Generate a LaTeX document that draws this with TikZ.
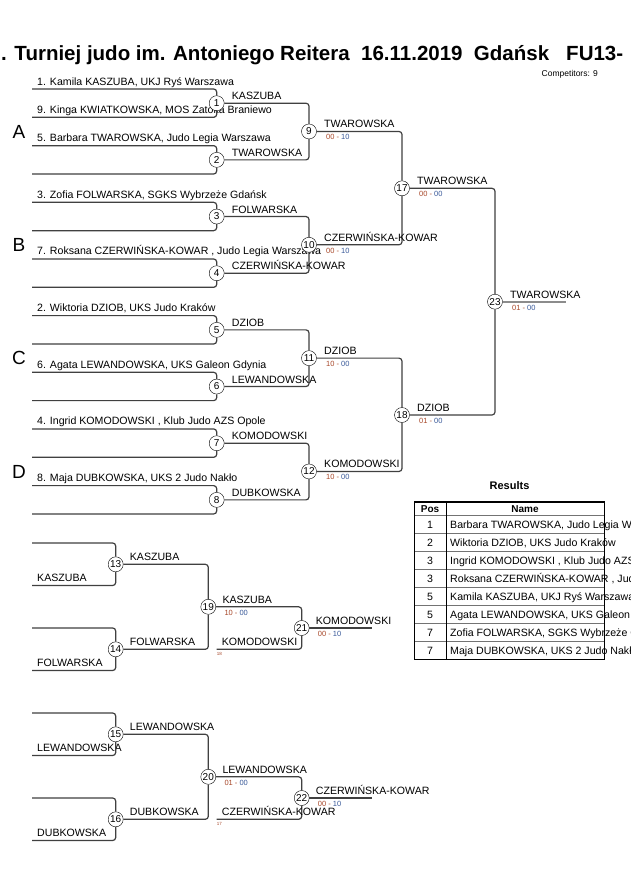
\documentclass[tikz,border=0pt]{standalone}
\usepackage{fontspec}
\setmainfont{Liberation Sans}
\definecolor{ptsw}{HTML}{A8482A}
\definecolor{ptsb}{HTML}{3A5A9A}
\newcommand{\pts}[2]{\textcolor{ptsw}{#1 -} \textcolor{ptsb}{#2}}
\begin{document}
\begin{tikzpicture}[x=1pt,y=-1pt,
        bout/.style={circle,draw,fill=white,inner sep=0pt,minimum size=15pt,font=\fontsize{10}{10}\selectfont},
        wire/.style={draw=black!75,line width=1.2pt,rounded corners=3pt},
        lab/.style={anchor=base west,inner sep=0pt,font=\fontsize{10.6}{12}\selectfont},
        score/.style={anchor=base west,inner sep=0pt,font=\fontsize{7.5}{8}\selectfont},
        tiny/.style={anchor=base west,inner sep=0pt,text=ptsw,font=\fontsize{4.5}{5}\selectfont},
        pool/.style={inner sep=0pt,font=\fontsize{19}{20}\selectfont}]
                \useasboundingbox[fill=white] (0,0) rectangle (630,891);

                \node[anchor=base west,inner sep=0pt,font=\bfseries\fontsize{20.5}{24}\selectfont] (title) at (1,61)
                    {. Turniej judo im. Antoniego Reitera\ \ 16.11.2019\ \ Gdańsk\ \ \ FU13-};
                \node[anchor=base east,inner sep=0pt,font=\fontsize{8.5}{10}\selectfont] (count) at (598,76) {Competitors: 9};

                \foreach \p/\y in {A/131.5,B/245,C/358.3,D/471.7}
                    \node[pool] (pool\p) at (19,\y) {\p};

                \foreach \k in {0,...,15}
                    \coordinate (e\k) at (32,89+28.33*\k);
                \foreach \k/\txt in {0/{1. Kamila KASZUBA, UKJ Ryś Warszawa},1/{9. Kinga KWIATKOWSKA, MOS Zatoka Braniewo},
                        2/{5. Barbara TWAROWSKA, Judo Legia Warszawa},4/{3. Zofia FOLWARSKA, SGKS Wybrzeże Gdańsk},
                        6/{7. Roksana CZERWIŃSKA-KOWAR , Judo Legia Warszawa},8/{2. Wiktoria DZIOB, UKS Judo Kraków},
                        10/{6. Agata LEWANDOWSKA, UKS Galeon Gdynia},12/{4. Ingrid KOMODOWSKI , Klub Judo AZS Opole},
                        14/{8. Maja DUBKOWSKA, UKS 2 Judo Nakło}}
                    \path (e\k) ++(5,-4) node[lab] {\txt};

                \foreach \i in {1,...,8}
                    \node[bout] (m\i) at (216.7,103.2+56.67*\i-56.67) {\i};
                \foreach \i in {9,...,12}
                    \node[bout] (m\i) at (309,131.5+113.33*\i-1020) {\i};
                \node[bout] (m17) at (402,188.3) {17};
                \node[bout] (m18) at (402,415) {18};
                \node[bout] (m23) at (495,301.7) {23};
                \coordinate (w23) at (566,301.7);

                \foreach \i/\a/\b in {1/0/1,2/2/3,3/4/5,4/6/7,5/8/9,6/10/11,7/12/13,8/14/15} {
                    \draw[wire] (e\a) -| (m\i);
                    \draw[wire] (e\b) -| (m\i);
                }
                \foreach \i/\j in {1/9,2/9,3/10,4/10,5/11,6/11,7/12,8/12,9/17,10/17,11/18,12/18,17/23,18/23}
                    \draw[wire] (m\i) -| (m\j);
                \draw[line width=2pt,black!45] (m23) -- (w23);

                \foreach \i/\txt in {1/KASZUBA,2/TWAROWSKA,3/FOLWARSKA,4/CZERWIŃSKA-KOWAR,
                        5/DZIOB,6/LEWANDOWSKA,7/KOMODOWSKI,8/DUBKOWSKA}
                    \path (m\i) ++(15,-3.5) node[lab] {\txt};
                \foreach \i/\txt/\w/\b in {9/TWAROWSKA/00/10,10/CZERWIŃSKA-KOWAR/00/10,11/DZIOB/10/00,
                        12/KOMODOWSKI/10/00,17/TWAROWSKA/00/00,18/DZIOB/01/00,23/TWAROWSKA/01/00} {
                    \path (m\i) ++(15,-3.5) node[lab] {\txt};
                    \path (m\i) ++(17,8.5) node[score] {\pts{\w}{\b}};
                }

                \foreach \k/\y in {0/543,1/585.5,2/628,3/670.5,4/713,5/755.5,6/798,7/840.5}
                    \coordinate (r\k) at (32,\y);
                \foreach \k/\txt in {1/KASZUBA,3/FOLWARSKA,5/LEWANDOWSKA,7/DUBKOWSKA}
                    \path (r\k) ++(5,-4) node[lab] {\txt};

                \node[bout] (m13) at (115.7,564.3) {13};
                \node[bout] (m14) at (115.7,649.3) {14};
                \node[bout] (m15) at (115.7,734.3) {15};
                \node[bout] (m16) at (115.7,819.3) {16};
                \node[bout] (m19) at (208.3,606.8) {19};
                \node[bout] (m20) at (208.3,776.8) {20};
                \node[bout] (m21) at (301.7,628) {21};
                \node[bout] (m22) at (301.7,798) {22};
                \coordinate (l18) at (216.7,649.3);
                \coordinate (l17) at (216.7,819.3);
                \coordinate (w21) at (371.7,628);
                \coordinate (w22) at (371.7,798);

                \foreach \i/\a/\b in {13/0/1,14/2/3,15/4/5,16/6/7} {
                    \draw[wire] (r\a) -| (m\i);
                    \draw[wire] (r\b) -| (m\i);
                }
                \foreach \i/\j in {13/19,14/19,15/20,16/20,19/21,20/22}
                    \draw[wire] (m\i) -| (m\j);
                \draw[wire] (l18) -| (m21);
                \draw[wire] (l17) -| (m22);
                \draw[wire] (m21) -- (w21);
                \draw[wire] (m22) -- (w22);

                \foreach \i/\txt in {13/KASZUBA,14/FOLWARSKA,15/LEWANDOWSKA,16/DUBKOWSKA}
                    \path (m\i) ++(14,-3.5) node[lab] {\txt};
                \foreach \i/\txt/\w/\b in {19/KASZUBA/10/00,20/LEWANDOWSKA/01/00,
                        21/KOMODOWSKI/00/10,22/CZERWIŃSKA-KOWAR/00/10} {
                    \path (m\i) ++(14,-3.5) node[lab] {\txt};
                    \path (m\i) ++(16,8.5) node[score] {\pts{\w}{\b}};
                }
                \path (l18) ++(5,-4) node[lab] {KOMODOWSKI};
                \path (l18) ++(0,5.7) node[tiny] {18};
                \path (l17) ++(5,-4) node[lab] {CZERWIŃSKA-KOWAR};
                \path (l17) ++(0,5.7) node[tiny] {17};

                \node[anchor=base,inner sep=0pt,font=\bfseries\fontsize{11}{12}\selectfont] (results) at (509.5,489) {Results};
                \node[anchor=base,inner sep=0pt,font=\bfseries\fontsize{10}{12}\selectfont] (hpos) at (430,512) {Pos};
                \node[anchor=base,inner sep=0pt,font=\bfseries\fontsize{10}{12}\selectfont] (hname) at (525,512) {Name};
                \foreach \j/\p/\txt in {0/1/{Barbara TWAROWSKA, Judo Legia Warszawa},1/2/{Wiktoria DZIOB, UKS Judo Kraków},
                        2/3/{Ingrid KOMODOWSKI , Klub Judo AZS Opole},3/3/{Roksana CZERWIŃSKA-KOWAR , Judo Legia Warszawa},
                        4/5/{Kamila KASZUBA, UKJ Ryś Warszawa},5/5/{Agata LEWANDOWSKA, UKS Galeon Gdynia},
                        6/7/{Zofia FOLWARSKA, SGKS Wybrzeże Gdańsk},7/7/{Maja DUBKOWSKA, UKS 2 Judo Nakło}} {
                    \node[anchor=base,inner sep=0pt,font=\fontsize{10.6}{12}\selectfont] (pos\j) at (430,528.3+18*\j) {\p};
                    \node[lab] (name\j) at (450,528.3+18*\j) {\txt};
                }
                \foreach \j in {0,...,7}
                    \draw[black!55,line width=0.8pt] (414.3,515.5+18*\j) -- (604.3,515.5+18*\j);
                \draw[line width=1pt] (446,501.7) -- (446,659.5);
                \draw[line width=1.6pt] (414.3,501.7) rectangle (604.3,659.5);
            \end{tikzpicture}
\end{document}
